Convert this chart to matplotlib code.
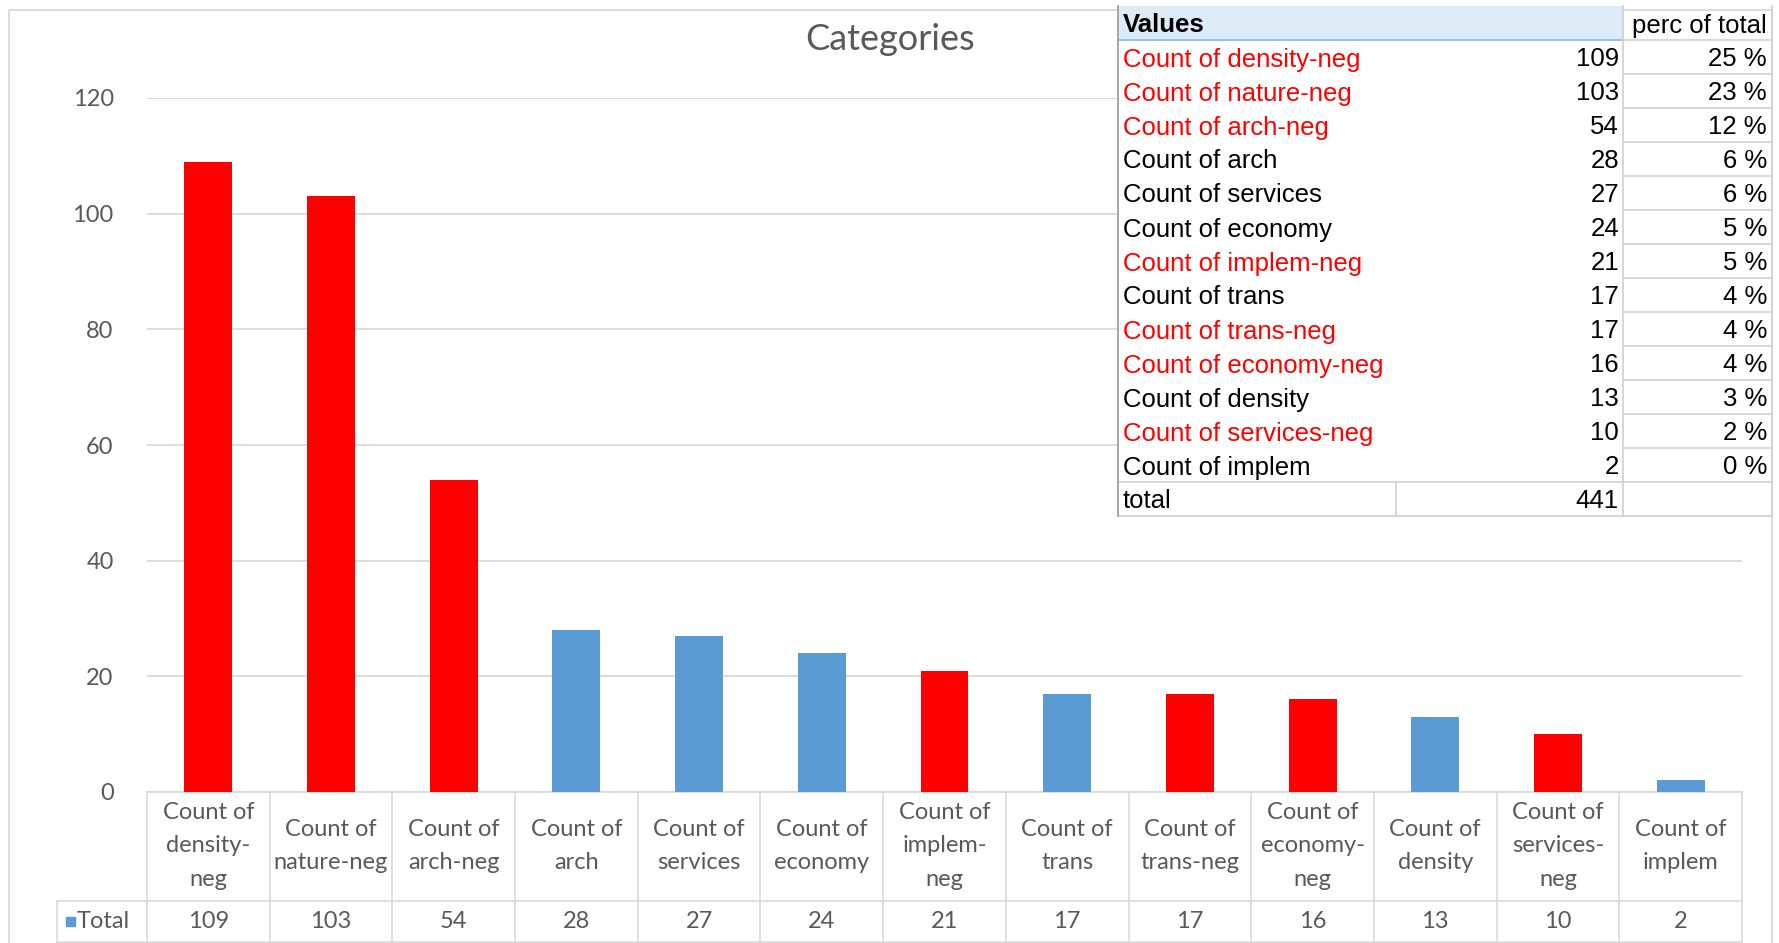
import matplotlib.pyplot as plt
from matplotlib.patches import Rectangle

plt.rcParams['font.family'] = ['Lato', 'DejaVu Sans']

categories = ['density-neg', 'nature-neg', 'arch-neg', 'arch', 'services', 'economy',
              'implem-neg', 'trans', 'trans-neg', 'economy-neg', 'density',
              'services-neg', 'implem']
counts = [109, 103, 54, 28, 27, 24, 21, 17, 17, 16, 13, 10, 2]
perc = [25, 23, 12, 6, 6, 5, 5, 4, 4, 4, 3, 2, 0]
total = 441
tick_labels = ['Count of\ndensity-\nneg', 'Count of\nnature-neg', 'Count of\narch-neg',
               'Count of\narch', 'Count of\nservices', 'Count of\neconomy',
               'Count of\nimplem-\nneg', 'Count of\ntrans', 'Count of\ntrans-neg',
               'Count of\neconomy-\nneg', 'Count of\ndensity', 'Count of\nservices-\nneg',
               'Count of\nimplem']
y_ticks = [0, 20, 40, 60, 80, 100, 120]

RED = '#FF0000'
BLUE = '#5B9BD5'
GREY = '#595959'
LINE = '#D9D9D9'
TABLE_FONT = ['Liberation Sans', 'DejaVu Sans']

W, H = 1779, 943
fig = plt.figure(figsize=(W / 100, H / 100), dpi=100)

# plot box in pixels (from top-left)
x0, x1, y0, y1 = 147, 1742, 792, 98
ax = fig.add_axes([x0 / W, 1 - y0 / H, (x1 - x0) / W, (y0 - y1) / H])

n = len(categories)
colors = [RED if c.endswith('-neg') else BLUE for c in categories]
ax.bar(range(n), counts, width=0.39, color=colors, zorder=3)
ax.set_xlim(-0.5, n - 0.5)
ax.set_ylim(0, 120)
ax.set_yticks(y_ticks)
ax.yaxis.grid(True, color=LINE, lw=1.3, zorder=0)
ax.tick_params(axis='y', length=0, pad=24, labelsize=17, labelcolor=GREY)
ax.set_xticks([])
for s in ['top', 'right', 'left']:
    ax.spines[s].set_visible(False)
ax.spines['bottom'].set_color(LINE)
ax.spines['bottom'].set_linewidth(1.3)


def fy(py):
    return (y0 - py) / (y0 - y1)


# data table under the bars
tr = ax.get_xaxis_transform()
col = (x1 - x0) / n
left_cell = -0.5 - (x0 - 57) / col
for i in range(n + 1):
    ax.plot([i - 0.5, i - 0.5], [fy(792), fy(943)], transform=tr, color=LINE,
            lw=1.2, clip_on=False)
ax.plot([left_cell, left_cell], [fy(901), fy(943)], transform=tr, color=LINE,
        lw=1.2, clip_on=False)
ax.plot([left_cell, n - 0.5], [fy(901), fy(901)], transform=tr, color=LINE,
        lw=1.2, clip_on=False)
ax.plot([left_cell, n - 0.5], [fy(942), fy(942)], transform=tr, color=LINE,
        lw=1.2, clip_on=False)

for i in range(n):
    ax.text(i, fy(846), tick_labels[i], transform=tr, ha='center', va='center',
            fontsize=17, color=GREY, linespacing=1.75)
    ax.text(i, fy(921), str(counts[i]), transform=tr, ha='center', va='center',
            fontsize=17, color=GREY)

ax.add_patch(Rectangle((left_cell + 9 / col, fy(926)), 9 / col, fy(917) - fy(926),
                       transform=tr, color=BLUE, clip_on=False))
ax.text(left_cell + 20 / col, fy(921), 'Total', transform=tr, ha='left', va='center',
        fontsize=17, color=GREY)

# overlay in pixel coordinates: border, title, pivot table
tb = fig.add_axes([0, 0, 1, 1], zorder=5)
tb.set_xlim(0, W)
tb.set_ylim(H, 0)
tb.axis('off')

tb.plot([9, 9, 1772, 1772], [943, 10, 10, 943], color=LINE, lw=1.3)
tb.text(890, 39, 'Categories', fontsize=26, color=GREY, ha='center', va='center')

tl, trt, tv, tt = 1117.5, 1772, 1622.5, 1395.5
top, rh = 6, 34
nrows = n + 2
bot = top + nrows * rh
tb.add_patch(Rectangle((tl, top), trt - tl, nrows * rh, fc='white', ec='none', zorder=1))
tb.add_patch(Rectangle((tl, top), tv - tl, rh, fc='#DDEBF7', ec='none', zorder=2))
tb.plot([tl, tv], [top + rh, top + rh], color='#9BC2E6', lw=1.5, zorder=3)

cell = '#D0D0D0'
for r in range(1, nrows + 1):
    tb.plot([tv, trt], [top + r * rh, top + r * rh], color=cell, lw=1.2, zorder=3)
tb.plot([tl, tv], [top + (nrows - 1) * rh] * 2, color=cell, lw=1.2, zorder=3)
tb.plot([tl, tv], [bot, bot], color=cell, lw=1.2, zorder=3)
tb.plot([tv, tv], [top, bot], color=cell, lw=1.2, zorder=3)
tb.plot([trt, trt], [top, bot], color=cell, lw=1.2, zorder=3)
tb.plot([tt, tt], [top + (nrows - 1) * rh, bot], color=cell, lw=1.2, zorder=3)
tb.plot([tl, tl], [top, bot], color='#A6A6A6', lw=1.4, zorder=3)

fs = 18.5
dy = 2.5
tb.text(1123, top + rh / 2 + dy, 'Values', fontsize=fs, fontweight='bold', color='black',
        va='center', family=TABLE_FONT, zorder=4)
tb.text(1767, top + rh / 2 + dy, 'perc of total', fontsize=fs, color='black', ha='right',
        va='center', family=TABLE_FONT, zorder=4)
for i in range(n):
    yc = top + (i + 1.5) * rh + dy
    c = RED if categories[i].endswith('-neg') else 'black'
    tb.text(1123, yc, 'Count of ' + categories[i], fontsize=fs, color=c, va='center',
            family=TABLE_FONT, zorder=4)
    tb.text(1619, yc, str(counts[i]), fontsize=fs, color='black', ha='right',
            va='center', family=TABLE_FONT, zorder=4)
    tb.text(1767, yc, f'{perc[i]} %', fontsize=fs, color='black', ha='right',
            va='center', family=TABLE_FONT, zorder=4)
yc = top + (nrows - 0.5) * rh + dy
tb.text(1123, yc, 'total', fontsize=fs, color='black', va='center',
        family=TABLE_FONT, zorder=4)
tb.text(1619, yc, str(total), fontsize=fs, color='black', ha='right', va='center',
        family=TABLE_FONT, zorder=4)

fig.savefig('out.png', dpi=100)
